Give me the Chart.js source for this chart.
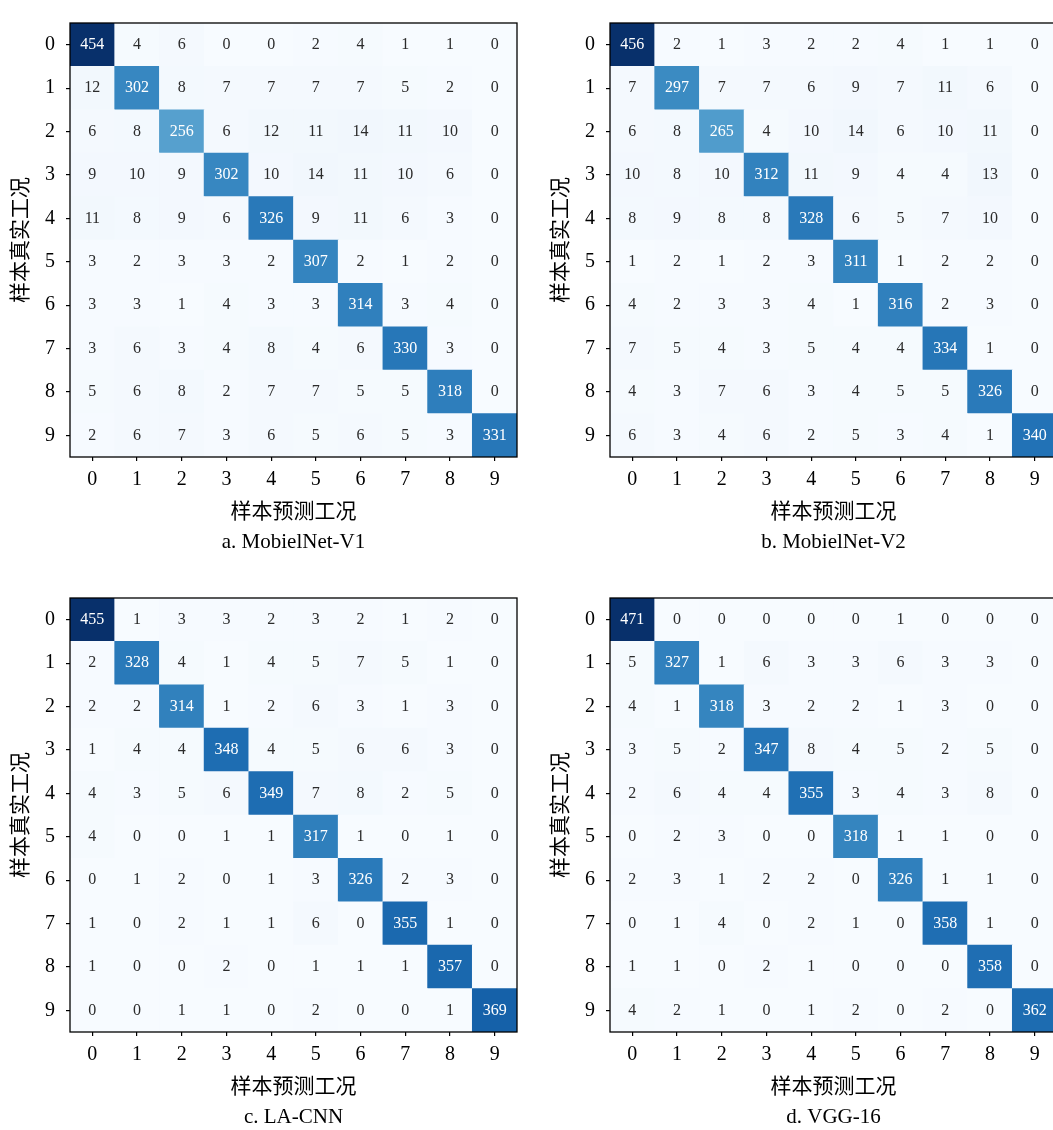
<!DOCTYPE html>
<html>
<head>
<meta charset="utf-8">
<script src="https://cdn.jsdelivr.net/npm/chart.js@4.4.1/dist/chart.umd.min.js"></script>
<style>
    html, body { margin: 0; padding: 0; background: #fff; overflow: hidden; }
    body { width: 1053px; height: 1130px; position: relative; }
    .panel { position: absolute; width: 540px; height: 576px; }
</style>
</head>
<body>
<div class="panel" style="left:0px;top:0px"><canvas id="cmA" width="540" height="576"></canvas></div>
<div class="panel" style="left:540px;top:0px"><canvas id="cmB" width="540" height="576"></canvas></div>
<div class="panel" style="left:0px;top:575px"><canvas id="cmC" width="540" height="576"></canvas></div>
<div class="panel" style="left:540px;top:575px"><canvas id="cmD" width="540" height="576"></canvas></div>
<script>
// 工况类别 (刻度标签)
const predLabels = ['0', '1', '2', '3', '4', '5', '6', '7', '8', '9'];
const trueLabels = ['0', '1', '2', '3', '4', '5', '6', '7', '8', '9'];

const xTitle = '样本预测工况';
const yTitle = '样本真实工况';

// 子图标题
const captions = ['a. MobielNet-V1', 'b. MobielNet-V2', 'c. LA-CNN', 'd. VGG-16'];

// 混淆矩阵 (行: 真实工况, 列: 预测工况)
const cmMobileNetV1 = [
    [454, 4, 6, 0, 0, 2, 4, 1, 1, 0],
    [12, 302, 8, 7, 7, 7, 7, 5, 2, 0],
    [6, 8, 256, 6, 12, 11, 14, 11, 10, 0],
    [9, 10, 9, 302, 10, 14, 11, 10, 6, 0],
    [11, 8, 9, 6, 326, 9, 11, 6, 3, 0],
    [3, 2, 3, 3, 2, 307, 2, 1, 2, 0],
    [3, 3, 1, 4, 3, 3, 314, 3, 4, 0],
    [3, 6, 3, 4, 8, 4, 6, 330, 3, 0],
    [5, 6, 8, 2, 7, 7, 5, 5, 318, 0],
    [2, 6, 7, 3, 6, 5, 6, 5, 3, 331]
];

const cmMobileNetV2 = [
    [456, 2, 1, 3, 2, 2, 4, 1, 1, 0],
    [7, 297, 7, 7, 6, 9, 7, 11, 6, 0],
    [6, 8, 265, 4, 10, 14, 6, 10, 11, 0],
    [10, 8, 10, 312, 11, 9, 4, 4, 13, 0],
    [8, 9, 8, 8, 328, 6, 5, 7, 10, 0],
    [1, 2, 1, 2, 3, 311, 1, 2, 2, 0],
    [4, 2, 3, 3, 4, 1, 316, 2, 3, 0],
    [7, 5, 4, 3, 5, 4, 4, 334, 1, 0],
    [4, 3, 7, 6, 3, 4, 5, 5, 326, 0],
    [6, 3, 4, 6, 2, 5, 3, 4, 1, 340]
];

const cmLaCnn = [
    [455, 1, 3, 3, 2, 3, 2, 1, 2, 0],
    [2, 328, 4, 1, 4, 5, 7, 5, 1, 0],
    [2, 2, 314, 1, 2, 6, 3, 1, 3, 0],
    [1, 4, 4, 348, 4, 5, 6, 6, 3, 0],
    [4, 3, 5, 6, 349, 7, 8, 2, 5, 0],
    [4, 0, 0, 1, 1, 317, 1, 0, 1, 0],
    [0, 1, 2, 0, 1, 3, 326, 2, 3, 0],
    [1, 0, 2, 1, 1, 6, 0, 355, 1, 0],
    [1, 0, 0, 2, 0, 1, 1, 1, 357, 0],
    [0, 0, 1, 1, 0, 2, 0, 0, 1, 369]
];

const cmVgg16 = [
    [471, 0, 0, 0, 0, 0, 1, 0, 0, 0],
    [5, 327, 1, 6, 3, 3, 6, 3, 3, 0],
    [4, 1, 318, 3, 2, 2, 1, 3, 0, 0],
    [3, 5, 2, 347, 8, 4, 5, 2, 5, 0],
    [2, 6, 4, 4, 355, 3, 4, 3, 8, 0],
    [0, 2, 3, 0, 0, 318, 1, 1, 0, 0],
    [2, 3, 1, 2, 2, 0, 326, 1, 1, 0],
    [0, 1, 4, 0, 2, 1, 0, 358, 1, 0],
    [1, 1, 0, 2, 1, 0, 0, 0, 358, 0],
    [4, 2, 1, 0, 1, 2, 0, 2, 0, 362]
];

const serifFont = '"Liberation Serif", "Times New Roman", serif';
const cjkFont = '"Noto Sans CJK SC", sans-serif';

// matplotlib Blues 色带
const bluesStops = ['#f7fbff', '#deebf7', '#c6dbef', '#9ecae1', '#6baed6', '#4292c6', '#2171b5', '#08519c', '#08306b'];

function hexToRgb(h) {
    return [parseInt(h.slice(1, 3), 16), parseInt(h.slice(3, 5), 16), parseInt(h.slice(5, 7), 16)];
}

function blues(t) {
    t = Math.max(0, Math.min(1, t));
    const pos = t * (bluesStops.length - 1);
    const i = Math.min(Math.floor(pos), bluesStops.length - 2);
    const f = pos - i;
    const a = hexToRgb(bluesStops[i]);
    const b = hexToRgb(bluesStops[i + 1]);
    const c = a.map((v, k) => Math.round(v + (b[k] - v) * f));
    return `rgb(${c[0]}, ${c[1]}, ${c[2]})`;
}

// 单元格数值 + 外框
const cellTextPlugin = {
    id: 'cellText',
    afterDatasetsDraw(chart) {
        const ctx = chart.ctx;
        const ds = chart.data.datasets[0];
        const meta = chart.getDatasetMeta(0);
        ctx.save();
        ctx.font = `16px ${serifFont}`;
        ctx.textAlign = 'center';
        ctx.textBaseline = 'middle';
        meta.data.forEach((bar, i) => {
            const cell = ds.data[i];
            ctx.fillStyle = cell.v > ds.thresh ? '#ffffff' : '#2b2b2b';
            ctx.fillText(String(cell.v), bar.x, (bar.y + bar.base) / 2);
        });
        const a = chart.chartArea;
        ctx.strokeStyle = '#000';
        ctx.lineWidth = 1.3;
        ctx.strokeRect(a.left, a.top, a.right - a.left, a.bottom - a.top);
        ctx.restore();
    }
};

function drawMatrix(canvasId, matrix, caption) {
    const flat = matrix.flat();
    const vmax = Math.max(...flat);
    const vmin = Math.min(...flat);

    const cells = [];
    matrix.forEach((row, r) => {
        row.forEach((v, c) => {
            cells.push({ x: predLabels[c], y: [r - 0.5, r + 0.5], v: v });
        });
    });

    new Chart(document.getElementById(canvasId), {
        type: 'bar',
        data: {
            labels: predLabels,
            datasets: [{
                data: cells,
                thresh: (vmax + vmin) / 2,
                backgroundColor: cells.map(c => blues((c.v - vmin) / (vmax - vmin))),
                borderWidth: 0,
                barPercentage: 1,
                categoryPercentage: 1
            }]
        },
        options: {
            responsive: false,
            animation: false,
            layout: { padding: { top: 7, right: 23, left: 0, bottom: 0 } },
            plugins: {
                legend: { display: false },
                tooltip: { enabled: false },
                title: {
                    display: true,
                    text: caption,
                    position: 'bottom',
                    fullSize: false,
                    color: '#000',
                    font: { family: serifFont, size: 21, weight: 'normal' },
                    padding: { top: 0, bottom: 21.4 }
                }
            },
            scales: {
                x: {
                    type: 'category',
                    offset: true,
                    grid: { display: true, offset: false, drawOnChartArea: false, drawTicks: true, tickLength: 4, color: '#000', lineWidth: 1.2 },
                    border: { display: false },
                    ticks: { color: '#000', padding: 7, maxRotation: 0, autoSkip: false, font: { family: serifFont, size: 20 } },
                    title: { display: true, text: xTitle, color: '#000', font: { family: cjkFont, size: 21 }, padding: { top: 0, bottom: 6.8 } },
                    afterFit: s => { s.height = 72.4; }
                },
                y: {
                    type: 'linear',
                    min: -0.5,
                    max: 9.5,
                    reverse: true,
                    afterBuildTicks: s => { s.ticks = trueLabels.map((_, i) => ({ value: i })); },
                    grid: { display: true, drawOnChartArea: false, drawTicks: true, tickLength: 4, color: '#000', lineWidth: 1.2 },
                    border: { display: false },
                    ticks: { color: '#000', padding: 11, font: { family: serifFont, size: 20 }, callback: v => trueLabels[v] },
                    title: { display: true, text: yTitle, color: '#000', font: { family: cjkFont, size: 21 }, padding: { top: 6, bottom: 0 } },
                    afterFit: s => { s.width = 70; }
                }
            }
        },
        plugins: [cellTextPlugin]
    });
}

drawMatrix('cmA', cmMobileNetV1, captions[0]);
drawMatrix('cmB', cmMobileNetV2, captions[1]);
drawMatrix('cmC', cmLaCnn, captions[2]);
drawMatrix('cmD', cmVgg16, captions[3]);
</script>
</body>
</html>
